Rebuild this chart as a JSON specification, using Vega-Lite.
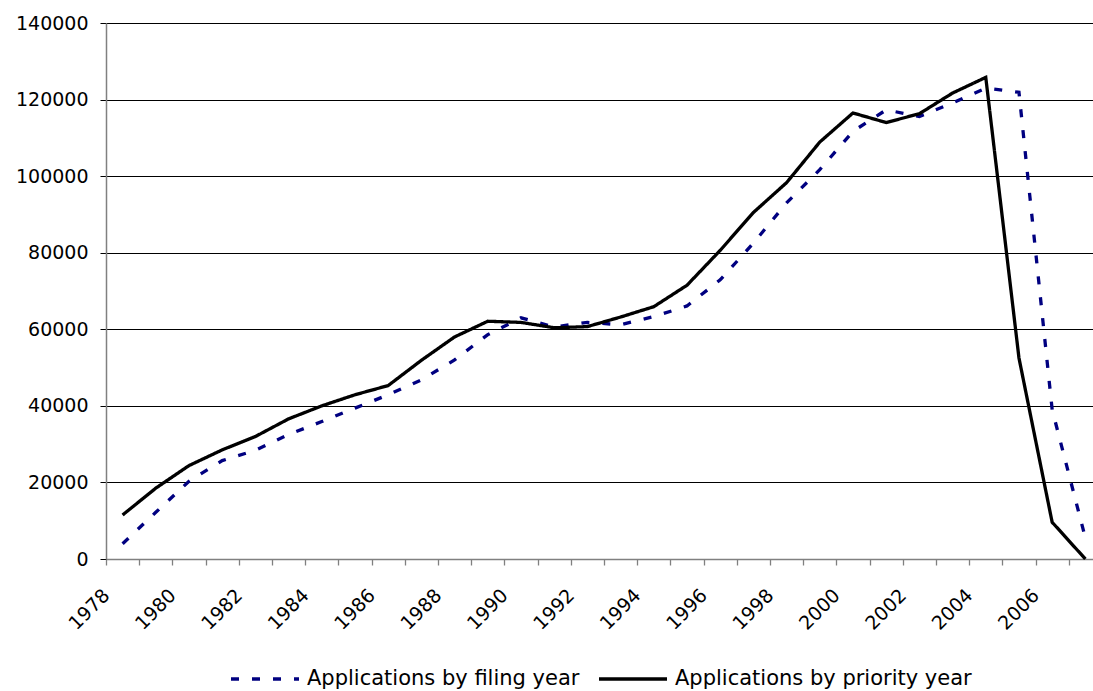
{
  "$schema": "https://vega.github.io/schema/vega-lite/v6.json",
  "width": 987,
  "height": 536,
  "autosize": {"type": "none"},
  "padding": {"left": 106, "top": 23, "right": 0, "bottom": 132},
  "background": "white",
  "config": {"view": {"stroke": null}, "font": "DejaVu Sans"},
  "datasets": {
    "apps": [
      {"year": 1978, "series": "Applications by filing year", "value": 4000},
      {"year": 1979, "series": "Applications by filing year", "value": 12200},
      {"year": 1980, "series": "Applications by filing year", "value": 20300},
      {"year": 1981, "series": "Applications by filing year", "value": 25700},
      {"year": 1982, "series": "Applications by filing year", "value": 28400},
      {"year": 1983, "series": "Applications by filing year", "value": 32500},
      {"year": 1984, "series": "Applications by filing year", "value": 35900},
      {"year": 1985, "series": "Applications by filing year", "value": 39400},
      {"year": 1986, "series": "Applications by filing year", "value": 42900},
      {"year": 1987, "series": "Applications by filing year", "value": 46800},
      {"year": 1988, "series": "Applications by filing year", "value": 52000},
      {"year": 1989, "series": "Applications by filing year", "value": 58600},
      {"year": 1990, "series": "Applications by filing year", "value": 63000},
      {"year": 1991, "series": "Applications by filing year", "value": 60600},
      {"year": 1992, "series": "Applications by filing year", "value": 61800},
      {"year": 1993, "series": "Applications by filing year", "value": 61200},
      {"year": 1994, "series": "Applications by filing year", "value": 63300},
      {"year": 1995, "series": "Applications by filing year", "value": 66100},
      {"year": 1996, "series": "Applications by filing year", "value": 72900},
      {"year": 1997, "series": "Applications by filing year", "value": 82500},
      {"year": 1998, "series": "Applications by filing year", "value": 93000},
      {"year": 1999, "series": "Applications by filing year", "value": 101700},
      {"year": 2000, "series": "Applications by filing year", "value": 111700},
      {"year": 2001, "series": "Applications by filing year", "value": 117300},
      {"year": 2002, "series": "Applications by filing year", "value": 115600},
      {"year": 2003, "series": "Applications by filing year", "value": 119100},
      {"year": 2004, "series": "Applications by filing year", "value": 123000},
      {"year": 2005, "series": "Applications by filing year", "value": 121900},
      {"year": 2006, "series": "Applications by filing year", "value": 39000},
      {"year": 2007, "series": "Applications by filing year", "value": 5500},
      {"year": 1978, "series": "Applications by priority year", "value": 11500},
      {"year": 1979, "series": "Applications by priority year", "value": 18500},
      {"year": 1980, "series": "Applications by priority year", "value": 24400},
      {"year": 1981, "series": "Applications by priority year", "value": 28500},
      {"year": 1982, "series": "Applications by priority year", "value": 32000},
      {"year": 1983, "series": "Applications by priority year", "value": 36600},
      {"year": 1984, "series": "Applications by priority year", "value": 40000},
      {"year": 1985, "series": "Applications by priority year", "value": 42900},
      {"year": 1986, "series": "Applications by priority year", "value": 45300},
      {"year": 1987, "series": "Applications by priority year", "value": 51900},
      {"year": 1988, "series": "Applications by priority year", "value": 58000},
      {"year": 1989, "series": "Applications by priority year", "value": 62100},
      {"year": 1990, "series": "Applications by priority year", "value": 61800},
      {"year": 1991, "series": "Applications by priority year", "value": 60400},
      {"year": 1992, "series": "Applications by priority year", "value": 60700},
      {"year": 1993, "series": "Applications by priority year", "value": 63200},
      {"year": 1994, "series": "Applications by priority year", "value": 65900},
      {"year": 1995, "series": "Applications by priority year", "value": 71500},
      {"year": 1996, "series": "Applications by priority year", "value": 80600},
      {"year": 1997, "series": "Applications by priority year", "value": 90500},
      {"year": 1998, "series": "Applications by priority year", "value": 98300},
      {"year": 1999, "series": "Applications by priority year", "value": 108900},
      {"year": 2000, "series": "Applications by priority year", "value": 116500},
      {"year": 2001, "series": "Applications by priority year", "value": 114000},
      {"year": 2002, "series": "Applications by priority year", "value": 116300},
      {"year": 2003, "series": "Applications by priority year", "value": 121700},
      {"year": 2004, "series": "Applications by priority year", "value": 125800},
      {"year": 2005, "series": "Applications by priority year", "value": 52500},
      {"year": 2006, "series": "Applications by priority year", "value": 9600},
      {"year": 2007, "series": "Applications by priority year", "value": 0}
    ]
  },
  "data": {"name": "apps"},
  "mark": {"type": "line", "strokeWidth": 3.3, "clip": false},
  "encoding": {
    "x": {
      "field": "year",
      "type": "quantitative",
      "scale": {"domain": [1977.5, 2007.23], "nice": false, "zero": false},
      "axis": {
        "title": null,
        "values": [1977.5, 1978.5, 1979.5, 1980.5, 1981.5, 1982.5, 1983.5, 1984.5, 1985.5, 1986.5, 1987.5, 1988.5, 1989.5, 1990.5, 1991.5, 1992.5, 1993.5, 1994.5, 1995.5, 1996.5, 1997.5, 1998.5, 1999.5, 2000.5, 2001.5, 2002.5, 2003.5, 2004.5, 2005.5, 2006.5],
        "labelExpr": "(datum.value + 0.5) % 2 == 0 ? '' + (datum.value + 0.5) : ''",
        "labelAngle": -45,
        "labelAlign": "right",
        "labelBaseline": "middle",
        "labelPadding": 27,
        "labelFontSize": 19,
        "labelFont": "DejaVu Sans",
        "labelColor": "black",
        "labelFlush": false,
        "labelOverlap": false,
        "labelBound": false,
        "tickSize": 6,
        "tickColor": "#808080",
        "tickWidth": 1.3,
        "domainColor": "#808080",
        "domainWidth": 1.5,
        "grid": false
      }
    },
    "y": {
      "field": "value",
      "type": "quantitative",
      "scale": {"domain": [0, 140000], "nice": false},
      "axis": {
        "title": null,
        "values": [0, 20000, 40000, 60000, 80000, 100000, 120000, 140000],
        "format": "d",
        "grid": true,
        "gridColor": "black",
        "gridWidth": 1,
        "gridOpacity": 1,
        "tickSize": 6,
        "tickColor": "black",
        "domainColor": "#808080",
        "domainWidth": 1.5,
        "labelFontSize": 19,
        "labelFont": "DejaVu Sans",
        "labelPadding": 12,
        "labelColor": "black"
      }
    },
    "color": {
      "field": "series",
      "type": "nominal",
      "scale": {"domain": ["Applications by filing year", "Applications by priority year"], "range": ["#000080", "#000000"]},
      "legend": {
        "title": null, "orient": "none", "legendX": 123, "legendY": 620, "direction": "horizontal",
        "symbolType": "stroke", "symbolSize": 4624, "symbolStrokeWidth": 3.3,
        "labelFontSize": 21, "labelFont": "DejaVu Sans", "labelLimit": 500, "labelOffset": 6,
        "columnPadding": 12, "labelColor": "black"
      }
    },
    "strokeDash": {
      "field": "series",
      "type": "nominal",
      "scale": {"domain": ["Applications by filing year", "Applications by priority year"], "range": [[8, 13], [1, 0]]},
      "legend": {
        "title": null, "orient": "none", "legendX": 123, "legendY": 620, "direction": "horizontal",
        "symbolType": "stroke", "symbolSize": 4624, "symbolStrokeWidth": 3.3,
        "labelFontSize": 21, "labelFont": "DejaVu Sans", "labelLimit": 500, "labelOffset": 6,
        "columnPadding": 12, "labelColor": "black"
      }
    }
  }
}
